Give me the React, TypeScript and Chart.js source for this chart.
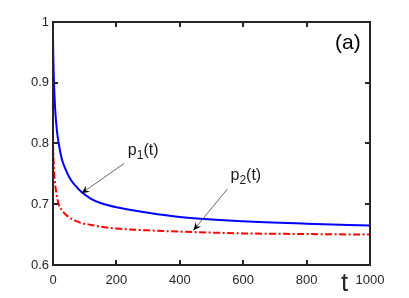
import React, { useEffect, useRef } from "react";
import { Chart, registerables } from "chart.js";

Chart.register(...registerables);

const timeSteps = [0, 1, 2, 4, 7, 12, 18, 28, 40, 55, 70, 90, 120, 150, 200, 300, 400, 600, 800, 1000];
const p1Values = [0.97, 0.94, 0.918, 0.888, 0.855, 0.823, 0.8, 0.774, 0.757, 0.741, 0.731, 0.72, 0.709, 0.702, 0.695, 0.686, 0.679, 0.672, 0.668, 0.665];
const p2Values = [0.8, 0.783, 0.77, 0.75, 0.732, 0.714, 0.7, 0.69, 0.683, 0.677, 0.673, 0.669, 0.666, 0.663, 0.66, 0.657, 0.655, 0.652, 0.651, 0.65];
const xTickValues = [0, 200, 400, 600, 800, 1000];
const yTickValues = [0.6, 0.7, 0.8, 0.9, 1];

// annotations in data coordinates: [label, sub, textT, textV, tailT, tailV, tipT, tipV]
const annotations: [string, string, number, number, number, number, number, number][] = [
  ["p", "1", 236, 0.7815, 224, 0.767, 90, 0.718],
  ["p", "2", 560, 0.74, 550, 0.725, 443, 0.657],
];
const panelLabel = "(a)";
const xAxisLabel = "t";

const FONT = "'Liberation Sans', Arial, Helvetica, sans-serif";
const AXIS_COLOR = "#262626";

const tickPlugin = {
  id: "matlabTicks",
  afterDatasetsDraw(chart: any) {
    const ctx = chart.ctx as CanvasRenderingContext2D;
    const xs = chart.scales.x;
    const ys = chart.scales.y;
    const left = Math.round(xs.getPixelForValue(0));
    const right = Math.round(xs.getPixelForValue(1000));
    const top = Math.round(ys.getPixelForValue(1));
    const bottom = Math.round(ys.getPixelForValue(0.6));
    ctx.save();
    ctx.setLineDash([]);
    ctx.strokeStyle = "#262626";
    ctx.lineWidth = 2;
    ctx.strokeRect(left, top, right - left, bottom - top);
    const tl = 5;
    ctx.lineWidth = 2;
    xTickValues.forEach((v) => {
      const px = Math.round(xs.getPixelForValue(v));
      ctx.beginPath();
      ctx.moveTo(px, bottom);
      ctx.lineTo(px, bottom - tl);
      ctx.stroke();
      ctx.beginPath();
      ctx.moveTo(px, top);
      ctx.lineTo(px, top + tl);
      ctx.stroke();
    });
    yTickValues.forEach((v) => {
      const py = Math.round(ys.getPixelForValue(v));
      ctx.beginPath();
      ctx.moveTo(left, py);
      ctx.lineTo(left + tl, py);
      ctx.stroke();
      ctx.beginPath();
      ctx.moveTo(right, py);
      ctx.lineTo(right - tl, py);
      ctx.stroke();
    });
    ctx.restore();
  },
};

const decorPlugin = {
  id: "matlabDecor",
  afterDraw(chart: any) {
    const ctx = chart.ctx as CanvasRenderingContext2D;
    const xs = chart.scales.x;
    const ys = chart.scales.y;
    ctx.save();
    annotations.forEach(([lab, sub, tt, tv, at, av, bt, bv]) => {
      const tx = xs.getPixelForValue(tt);
      const ty = ys.getPixelForValue(tv);
      ctx.fillStyle = "#1a1a1a";
      ctx.textBaseline = "alphabetic";
      ctx.textAlign = "left";
      ctx.font = `16px ${FONT}`;
      ctx.fillText(lab, tx, ty);
      let w = ctx.measureText(lab).width;
      ctx.font = `12px ${FONT}`;
      ctx.fillText(sub, tx + w, ty + 4);
      w += ctx.measureText(sub).width;
      ctx.font = `16px ${FONT}`;
      ctx.fillText("(t)", tx + w, ty);

      const x0 = xs.getPixelForValue(at);
      const y0 = ys.getPixelForValue(av);
      const x1 = xs.getPixelForValue(bt);
      const y1 = ys.getPixelForValue(bv);
      ctx.strokeStyle = "#555555";
      ctx.lineWidth = 0.9;
      ctx.beginPath();
      ctx.moveTo(x0, y0);
      ctx.lineTo(x1, y1);
      ctx.stroke();
      const ang = Math.atan2(y1 - y0, x1 - x0);
      const len = 8;
      const hw = 3.6;
      const notch = 5;
      const ux = Math.cos(ang);
      const uy = Math.sin(ang);
      const bx = x1 - ux * len;
      const by = y1 - uy * len;
      ctx.fillStyle = "#000000";
      ctx.beginPath();
      ctx.moveTo(x1, y1);
      ctx.lineTo(bx - uy * hw, by + ux * hw);
      ctx.lineTo(x1 - ux * notch, y1 - uy * notch);
      ctx.lineTo(bx + uy * hw, by - ux * hw);
      ctx.closePath();
      ctx.fill();
    });

    ctx.fillStyle = "#000000";
    ctx.font = `21px ${FONT}`;
    ctx.textAlign = "center";
    ctx.textBaseline = "middle";
    ctx.fillText(panelLabel, xs.getPixelForValue(930), ys.getPixelForValue(0.965));

    ctx.fillStyle = AXIS_COLOR;
    ctx.font = `26px ${FONT}`;
    ctx.textAlign = "center";
    ctx.textBaseline = "alphabetic";
    ctx.fillText(xAxisLabel, xs.getPixelForValue(920), ys.getPixelForValue(0.6) + 26);
    ctx.restore();
  },
};

export default function App() {
  const ref = useRef<HTMLCanvasElement | null>(null);
  useEffect(() => {
    if (!ref.current) return;
    const chart = new Chart(ref.current, {
      type: "line",
      data: {
        datasets: [
          {
            label: "p1(t)",
            data: timeSteps.map((t, i) => ({ x: t, y: p1Values[i] })),
            borderColor: "#0000ff",
            borderWidth: 2,
            pointRadius: 0,
            fill: false,
            cubicInterpolationMode: "monotone",
          },
          {
            label: "p2(t)",
            data: timeSteps.map((t, i) => ({ x: t, y: p2Values[i] })),
            borderColor: "#ff0000",
            borderWidth: 2,
            borderDash: [7, 2.5, 2, 2.5],
            pointRadius: 0,
            fill: false,
            cubicInterpolationMode: "monotone",
          },
        ],
      },
      options: {
        responsive: false,
        animation: false,
        layout: { padding: { left: 0, right: 39, top: 22, bottom: 0 } },
        plugins: { legend: { display: false }, tooltip: { enabled: false } },
        scales: {
          x: {
            type: "linear",
            min: 0,
            max: 1000,
            afterFit: (s: any) => {
              s.height = 33;
            },
            afterBuildTicks: (s: any) => {
              s.ticks = xTickValues.map((v) => ({ value: v }));
            },
            grid: { display: false, drawTicks: false },
            border: { display: false },
            ticks: {
              color: AXIS_COLOR,
              font: { family: FONT, size: 13 },
              padding: 8,
              maxRotation: 0,
              callback: (v: any) => String(v),
            },
          },
          y: {
            type: "linear",
            min: 0.6,
            max: 1,
            afterFit: (s: any) => {
              s.width = 53;
            },
            afterBuildTicks: (s: any) => {
              s.ticks = yTickValues.map((v) => ({ value: v }));
            },
            grid: { display: false, drawTicks: false },
            border: { display: false },
            ticks: {
              color: AXIS_COLOR,
              font: { family: FONT, size: 13 },
              padding: 4,
              callback: (v: any) => String(Math.round(v * 10) / 10),
            },
          },
        },
      },
      plugins: [tickPlugin, decorPlugin],
    });
    return () => chart.destroy();
  }, []);
  return (
    <div style={{ position: "absolute", left: 0, top: 0, width: 409, height: 298, background: "#fff" }}>
      <canvas ref={ref} width={409} height={298} />
    </div>
  );
}
